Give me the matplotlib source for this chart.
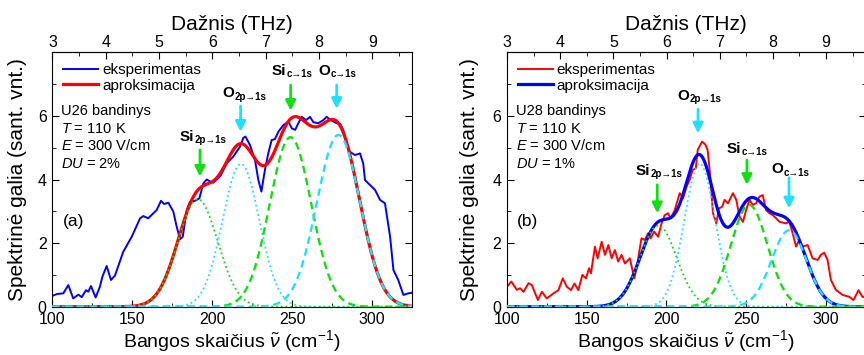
import numpy as np
import matplotlib
matplotlib.use("Agg")
import matplotlib.pyplot as plt
from matplotlib.ticker import MultipleLocator, FixedLocator

plt.rcParams['font.family'] = ['Liberation Sans', 'DejaVu Sans']
plt.rcParams['mathtext.fontset'] = 'custom'
plt.rcParams['mathtext.rm'] = 'Liberation Sans'
plt.rcParams['mathtext.it'] = 'Liberation Sans:italic'
plt.rcParams['mathtext.bf'] = 'Liberation Sans:bold'

# (a) U26 - experiment (blue)
wn_a = [100, 103, 106.9, 110, 113.1, 116.3, 118.4, 121.1, 122.5, 124.2, 127.1, 129.8, 131.3,
        134.0, 136.7, 139.2, 144.4, 149.7, 154.9, 156.9, 160.0, 165.3, 168.0, 169.9, 172.6,
        175.7, 177.8, 179.9, 181.6, 184.1, 186.1, 189.3, 192.0, 194.5, 196.6, 198.6, 200.7,
        203.8, 205.5, 209.1, 213.2, 217.4, 219.5, 220.8, 223.7, 226.8, 228.9, 230.8, 233.0,
        235.1, 237.2, 239.3, 241.4, 244.5, 247.7, 249.8, 251.9, 253.9, 256.0, 258.8, 261.2,
        263.3, 266.4, 269.6, 271.6, 274.1, 277.9, 280.0, 282.0, 284.2, 286.2, 289.3, 292.5,
        294.5, 295.6, 298.7, 301.9, 305.0, 308.1, 311.3, 313.4, 316.4, 319.6, 322.7, 325]
exp_a = [0.34, 0.40, 0.42, 0.68, 0.26, 0.38, 0.30, 0.52, 0.47, 0.65, 0.29, 0.63, 0.94,
         1.28, 0.84, 0.98, 1.73, 2.20, 2.78, 2.85, 2.78, 3.04, 3.33, 3.23, 3.27,
         2.99, 2.52, 2.12, 2.20, 3.04, 3.30, 3.33, 3.41, 3.88, 4.00, 3.94, 3.90,
         4.04, 4.14, 4.51, 4.72, 5.03, 5.31, 5.35, 5.08, 4.61, 3.98, 3.62, 4.30,
         4.82, 5.24, 5.27, 5.50, 5.71, 5.82, 5.61, 5.56, 5.77, 5.97, 5.87, 5.97,
         5.80, 5.77, 5.87, 5.97, 5.87, 5.77, 5.75, 5.56, 5.14, 4.87, 4.77, 4.82,
         4.50, 3.98, 3.83, 3.67, 3.36, 3.25, 2.20, 1.15, 0.84, 0.37, 0.42, 0.44]

# (a) gaussian components: Si 2p, O 2p, Si c, O c
cen_a = [191, 218, 249, 279]
sig_a = [12.5, 11.5, 13, 13.5]
amp_a = [3.38, 4.49, 5.33, 5.4]

# (b) U28 - experiment (red)
wn_b = [100, 102.7, 106.2, 108.2, 110.4, 113.5, 115.6, 119.4, 121.9, 125.0, 129.2, 132.3,
        135.0, 137.5, 140.2, 142.3, 144.8, 147.3, 149.6, 151.5, 152.7, 155.2, 156.9, 159.4,
        161.5, 163.6, 165.7, 167.7, 169.8, 171.9, 174.0, 177.1, 179.9, 181.3, 184.4, 186.5,
        188.6, 190.2, 192.3, 194.9, 197.0, 199.0, 201.1, 202.7, 205.3, 208.4, 210.5, 212.6,
        214.6, 216.5, 218.5, 219.7, 222.4, 224.5, 225.9, 227.4, 229.3, 231.4, 233.0, 235.0,
        236.6, 238.7, 241.8, 243.9, 246.0, 248.1, 250.1, 252.2, 254.3, 256.4, 258.4, 260.5,
        262.6, 264.7, 266.8, 268.9, 271.0, 275.1, 277.2, 279.3, 281.4, 283.5, 285.5, 288.7,
        291.8, 295.0, 297.0, 299.1, 301.2, 303.3, 306.4, 310.6, 314.8, 317.5, 320.6, 323.1, 325]
exp_b = [0.63, 0.79, 0.53, 0.58, 0.47, 0.74, 0.68, 0.21, 0.47, 0.26, 0.42, 0.52,
         0.89, 0.63, 0.52, 0.73, 0.52, 1.00, 0.89, 1.21, 1.05, 1.89, 1.52, 2.04,
         1.63, 1.94, 1.52, 1.78, 1.42, 1.63, 1.36, 1.52, 0.89, 1.21, 2.15, 2.10,
         2.31, 2.15, 2.36, 2.20, 2.62, 2.88, 2.94, 2.78, 3.04, 3.57, 3.41, 3.77,
         3.98, 4.30, 4.35, 4.93, 5.19, 5.10, 4.93, 4.19, 2.94, 2.62, 3.09, 3.14,
         3.36, 3.25, 3.57, 3.36, 2.83, 2.67, 3.04, 3.36, 3.20, 3.25, 3.46, 3.51,
         3.04, 2.94, 2.88, 2.78, 2.67, 2.62, 2.67, 2.31, 1.89, 2.10, 1.89, 1.94,
         1.52, 1.47, 1.63, 1.70, 1.47, 0.84, 0.53, 0.37, 0.31, 0.21, 0.52, 0.31, 0.30]

cen_b = [195, 221, 252, 277]
sig_b = [11.5, 9.7, 11.5, 11]
amp_b = [2.55, 4.5, 3.2, 2.4]

peak_main = ['Si', 'O', 'Si', 'O']
peak_sub = ['2p\u21921s', '2p\u21921s', 'c\u21921s', 'c\u21921s']

# label (junction x, baseline y), arrow (x, tail y, tip y)
lab_a = [(188.5, 5.2), (213.7, 6.58), (246.0, 7.29), (273.7, 7.29)]
arr_a = [(192.4, 4.93, 4.09), (217.8, 6.31, 5.50), (249.1, 6.97, 6.16), (277.9, 6.97, 6.22)]
lab_b = [(189.6, 4.14), (214.1, 6.50), (246.8, 4.83), (273.3, 4.19)]
arr_b = [(194.3, 3.83, 2.94), (219.9, 6.21, 5.45), (250.6, 4.61, 3.83), (277.0, 4.05, 3.09)]

green = '#10e010'
cyan = '#20e0ff'
comp_col = [green, cyan, green, cyan]
comp_ls = [':', ':', '--', '--']

CM_PER_THZ = 33.356


def gauss(x, c, s, a):
    return a * np.exp(-(x - c) ** 2 / (2 * s ** 2))


def panel(ax, wn, exp, cen, sig, amp, exp_col, fit_col, lab, arr, info, tag):
    x = np.linspace(100, 325, 600)
    comps = [gauss(x, c, s, a) for c, s, a in zip(cen, sig, amp)]
    ax.plot(wn, exp, color=exp_col, lw=1.4, label='eksperimentas', zorder=2)
    ax.plot(x, np.sum(comps, axis=0), color=fit_col, lw=2.3, label='aproksimacija', zorder=3)
    for y, col, ls in zip(comps, comp_col, comp_ls):
        if ls == '--':
            ax.plot(x, y, color=col, lw=1.7, dashes=(3.2, 2.0), zorder=4)
        else:
            ax.plot(x, y, color=col, lw=1.3, ls=':', zorder=4)

    for (jx, ly), (axx, yt, yh), col, m, s in zip(lab, arr, comp_col, peak_main, peak_sub):
        ax.text(jx, ly, m, ha='right', va='baseline', fontsize=11, fontweight='bold')
        ax.annotate(s, xy=(jx, ly), xytext=(0.6, -1.5), textcoords='offset points',
                    ha='left', va='baseline', fontsize=7, fontweight='bold')
        ax.annotate('', xy=(axx, yh), xytext=(axx, yt),
                    arrowprops=dict(arrowstyle='-|>,head_length=0.6,head_width=0.3',
                                    color=col, lw=2, shrinkA=0, shrinkB=0,
                                    mutation_scale=10))

    ax.set_xlim(100, 325)
    ax.set_ylim(0, 8)
    ax.xaxis.set_major_locator(MultipleLocator(50))
    ax.xaxis.set_minor_locator(MultipleLocator(25))
    ax.yaxis.set_minor_locator(MultipleLocator(1))
    ax.set_yticks([0, 2, 4, 6])
    ax.tick_params(which='both', direction='in', right=True, labelsize=11.5, pad=4)
    ax.tick_params(which='major', length=5)
    ax.tick_params(which='minor', length=3)

    ax.set_xlabel(r'Bangos skaičius $\tilde{\nu}$ (cm$^{-1}$)', fontsize=14)
    ax.xaxis.set_label_coords(0.5, -0.083)
    ax.set_ylabel('Spektrinė galia (sant. vnt.)', fontsize=15)

    top = ax.secondary_xaxis('top', functions=(lambda v: v / CM_PER_THZ,
                                                lambda v: v * CM_PER_THZ))
    top.xaxis.set_major_locator(FixedLocator([3, 4, 5, 6, 7, 8, 9]))
    top.xaxis.set_minor_locator(FixedLocator([3.5, 4.5, 5.5, 6.5, 7.5, 8.5, 9.5]))
    top.tick_params(which='both', direction='in', labelsize=11.5, pad=2)
    top.tick_params(which='major', length=5)
    top.tick_params(which='minor', length=3)
    top.set_xlabel('Dažnis (THz)', fontsize=15, labelpad=3)

    ax.legend(loc='upper left', bbox_to_anchor=(0.0, 1.0), frameon=False, fontsize=11,
              handlelength=2.3, handletextpad=0.25, labelspacing=0.12, borderaxespad=0.3)

    for yb, line in zip([0.7535, 0.684, 0.616, 0.546], info):
        ax.text(0.024, yb, line, transform=ax.transAxes, fontsize=10.5, va='baseline')
    ax.text(113, 2.67, tag, fontsize=12.5, ha='center', va='center')


fig = plt.figure(figsize=(8.64, 3.55), dpi=100)
ax1 = fig.add_axes([52.3 / 864, 48.3 / 355, 359.7 / 864, 254.4 / 355])
ax2 = fig.add_axes([507 / 864, 48.3 / 355, 358.5 / 864, 254.4 / 355])

panel(ax1, wn_a, exp_a, cen_a, sig_a, amp_a, 'blue', 'red', lab_a, arr_a,
      ['U26 bandinys', '$T$ = 110 K', '$E$ = 300 V/cm', '$DU$ = 2%'], '(a)')
panel(ax2, wn_b, exp_b, cen_b, sig_b, amp_b, 'red', 'blue', lab_b, arr_b,
      ['U28 bandinys', '$T$ = 110 K', '$E$ = 300 V/cm', '$DU$ = 1%'], '(b)')
ax1.yaxis.set_label_coords(-0.07, 0.5)
ax2.yaxis.set_label_coords(-0.077, 0.5)

fig.savefig('out.png', dpi=100)
